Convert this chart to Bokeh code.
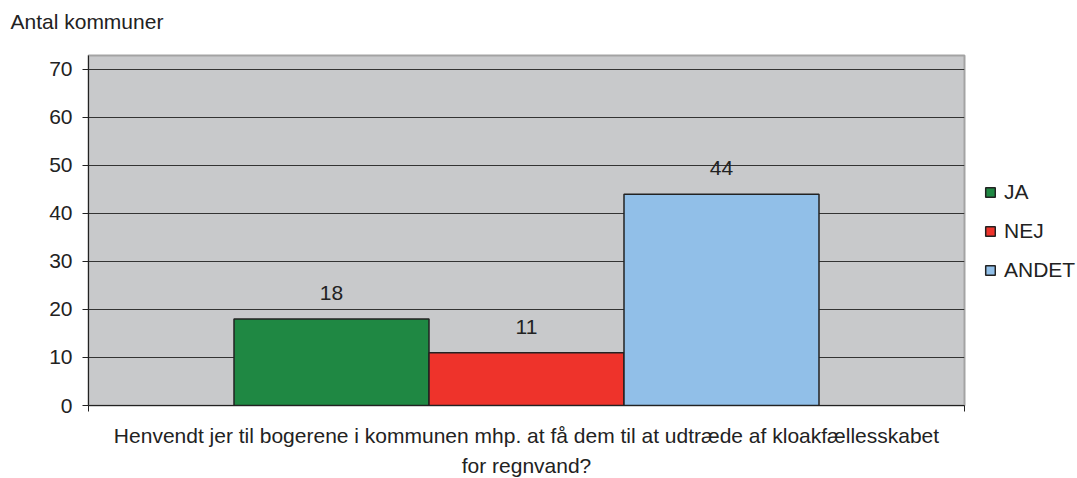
from bokeh.plotting import figure
from bokeh.models import Range1d, FixedTicker, Legend, LegendItem, ColumnDataSource, Title
from bokeh.embed import file_html
from bokeh.resources import INLINE
from bokeh.core.properties import value

categories = ["JA", "NEJ", "ANDET"]
values = [18, 11, 44]
colors = ["#1f8843", "#ee332b", "#91bfe8"]
y_ticks = [0, 10, 20, 30, 40, 50, 60, 70]
x_label_lines = ["Henvendt jer til bogerene i kommunen mhp. at få dem til at udtræde af kloakfællesskabet",
                 "for regnvand?"]
y_title = "Antal kommuner"

FONT = "Liberation Sans"
FS = "21px"

bar_w = 0.2226
xs = [0.5 - bar_w, 0.5, 0.5 + bar_w]

p = figure(frame_width=876, frame_height=350, output_backend="svg", toolbar_location=None,
           x_range=Range1d(0, 1), y_range=Range1d(0, 72.9),
           min_border_left=88, min_border_right=113, min_border_top=55, min_border_bottom=73)
p.background_fill_color = "#c8c9cb"
p.border_fill_color = "white"
p.outline_line_color = "#a3a3a3"
p.outline_line_width = 2

src = ColumnDataSource(dict(x=xs, top=values, color=colors, cat=categories,
                            lbl=[str(v) for v in values]))
renderers = []
for i in range(3):
    r = p.vbar(x=[xs[i]], top=[values[i]], width=bar_w, bottom=0,
               fill_color=colors[i], line_color="#222222", line_width=1.5)
    renderers.append(r)

p.text(x="x", y="top", text="lbl", source=src, text_align="center", text_baseline="middle",
       y_offset=-26, text_font=value(FONT), text_font_size=FS, text_color="#222222")

# axes
p.yaxis.ticker = FixedTicker(ticks=y_ticks)
p.yaxis.major_label_text_font = FONT
p.yaxis.major_label_text_font_size = FS
p.yaxis.major_label_text_color = "#222222"
p.yaxis.axis_line_color = "#222222"
p.yaxis.major_tick_line_color = "#222222"
p.yaxis.major_tick_out = 6
p.yaxis.major_tick_in = 0
p.yaxis.minor_tick_line_color = None
p.yaxis.major_label_standoff = 10

p.xaxis.ticker = FixedTicker(ticks=[0, 1])
p.xaxis.major_label_overrides = {0: "", 1: ""}
p.xaxis.major_label_standoff = 0
p.xaxis.axis_line_color = "#222222"
p.xaxis.major_tick_line_color = "#222222"
p.xaxis.major_tick_out = 6
p.xaxis.major_tick_in = 0
p.xaxis.minor_tick_line_color = None
p.xaxis.axis_label = x_label_lines[0] + "\n" + x_label_lines[1]
p.xaxis.axis_label_text_font = FONT
p.xaxis.axis_label_text_font_size = FS
p.xaxis.axis_label_text_font_style = "normal"
p.xaxis.axis_label_text_color = "#222222"
p.xaxis.axis_label_text_line_height = 1.33
p.xaxis.axis_label_standoff = 12

p.xgrid.grid_line_color = None
p.ygrid.grid_line_color = "#333333"
p.ygrid.grid_line_width = 1.2

# spacer between frame and the top-left title, then the title itself
spacer = Title(text=" ", align="left", standoff=10, text_font=FONT, text_font_size="10px",
               text_color="white")
p.add_layout(spacer, "above")
t = Title(text=y_title, align="left", offset=-78, standoff=0,
          text_font=FONT, text_font_size=FS, text_font_style="normal", text_color="#222222")
p.add_layout(t, "above")

legend = Legend(items=[LegendItem(label=categories[i], renderers=[renderers[i]]) for i in range(3)],
                location=(20, 123), orientation="vertical")
legend.padding = 0
legend.margin = 0
legend.border_line_color = None
legend.background_fill_alpha = 0
legend.glyph_width = 12
legend.glyph_height = 12
legend.label_standoff = 8
legend.label_height = 24
legend.spacing = 15
legend.label_text_font = FONT
legend.label_text_font_size = FS
legend.label_text_color = "#222222"
p.add_layout(legend, "right")

open("out.html", "w").write(file_html(p, INLINE))
